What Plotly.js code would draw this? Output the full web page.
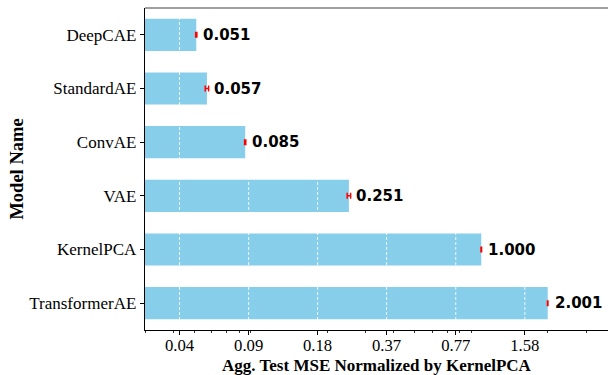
<!DOCTYPE html>
<html>
<head>
<meta charset="utf-8">
<script src="https://cdn.plot.ly/plotly-3.0.1.min.js"></script>
<style>html,body{margin:0;padding:0;background:#fff;}#chart{width:608px;height:375px;}</style>
</head>
<body>
<div id="chart"></div>
<script>
const models = ["DeepCAE", "StandardAE", "ConvAE", "VAE", "KernelPCA", "TransformerAE"];
const mseNorm = [0.051, 0.057, 0.085, 0.251, 1.000, 2.001];
const mseErr = [0.0003, 0.001, 0.0005, 0.0045, 0.003, 0.005];
const valueLabels = ["0.051", "0.057", "0.085", "0.251", "1.000", "2.001"];
const majorTickVals = [0.0428, 0.0881, 0.181, 0.372, 0.766, 1.576];
const majorTickText = ["0.04", "0.09", "0.18", "0.37", "0.77", "1.58"];
const minorTickVals = [0.03, 0.04, 0.05, 0.06, 0.07, 0.08, 0.09, 0.2, 0.3, 0.4, 0.5, 0.6, 0.7, 0.8, 0.9, 2, 3];

const serif = "Liberation Serif, Times New Roman, serif";

const trace = {
  type: "bar",
  orientation: "h",
  y: models,
  x: mseNorm,
  width: 0.6,
  marker: {color: "#87CEEB", line: {width: 0}},
  error_x: {type: "data", array: mseErr, visible: true, color: "#ff0000", thickness: 1.5, width: 3},
  hoverinfo: "none"
};

const annotations = models.map((m, i) => ({
  x: Math.log10(mseNorm[i]),
  y: m,
  xref: "x",
  yref: "y",
  text: valueLabels[i],
  showarrow: false,
  xanchor: "left",
  yanchor: "middle",
  xshift: 5,
  font: {family: "DejaVu Sans, sans-serif", size: 15, color: "#000", weight: "bold"}
}));

const shapes = majorTickVals.map(v => ({
  type: "line",
  xref: "x",
  yref: "paper",
  x0: v,
  x1: v,
  y0: 0,
  y1: 1,
  layer: "above",
  line: {color: "rgba(255,255,255,0.85)", width: 1, dash: "3px,2px"}
}));
shapes.push({
  type: "line", xref: "paper", yref: "paper", x0: 0, x1: 1, y0: 1, y1: 1,
  layer: "above", line: {color: "#808080", width: 1.5}
});

const layout = {
  width: 608,
  height: 375,
  margin: {l: 145, r: 0, t: 8, b: 45, pad: 0},
  paper_bgcolor: "#fff",
  plot_bgcolor: "#fff",
  showlegend: false,
  bargap: 0.4,
  xaxis: {
    type: "log",
    range: [-1.525, 0.5746],
    tickmode: "array",
    tickvals: majorTickVals,
    ticktext: majorTickText,
    ticks: "outside",
    ticklen: 4,
    tickwidth: 1,
    tickcolor: "#000",
    ticklabelstandoff: -4,
    showgrid: false,
    zeroline: false,
    showline: true,
    linecolor: "#000",
    linewidth: 1.3,
    tickfont: {family: serif, size: 16.7, color: "#000"},
    minor: {tickmode: "array", tickvals: minorTickVals, ticks: "outside", ticklen: 2, tickwidth: 0.8, tickcolor: "#000", showgrid: false},
    title: {text: "Agg. Test MSE Normalized by KernelPCA", font: {family: serif, size: 17, color: "#000", weight: "bold"}, standoff: 8}
  },
  yaxis: {
    type: "category",
    categoryorder: "array",
    categoryarray: models,
    range: [5.5, -0.5],
    ticks: "outside",
    ticklen: 4,
    tickwidth: 1,
    tickcolor: "#000",
    showgrid: false,
    zeroline: false,
    showline: true,
    linecolor: "#000",
    linewidth: 1.3,
    tickfont: {family: serif, size: 17, color: "#000"},
    title: {text: "Model Name", font: {family: serif, size: 18.5, color: "#000", weight: "bold"}, standoff: 0}
  },
  annotations: annotations,
  shapes: shapes
};

Plotly.newPlot("chart", [trace], layout, {displayModeBar: false, staticPlot: true});
</script>
</body>
</html>
